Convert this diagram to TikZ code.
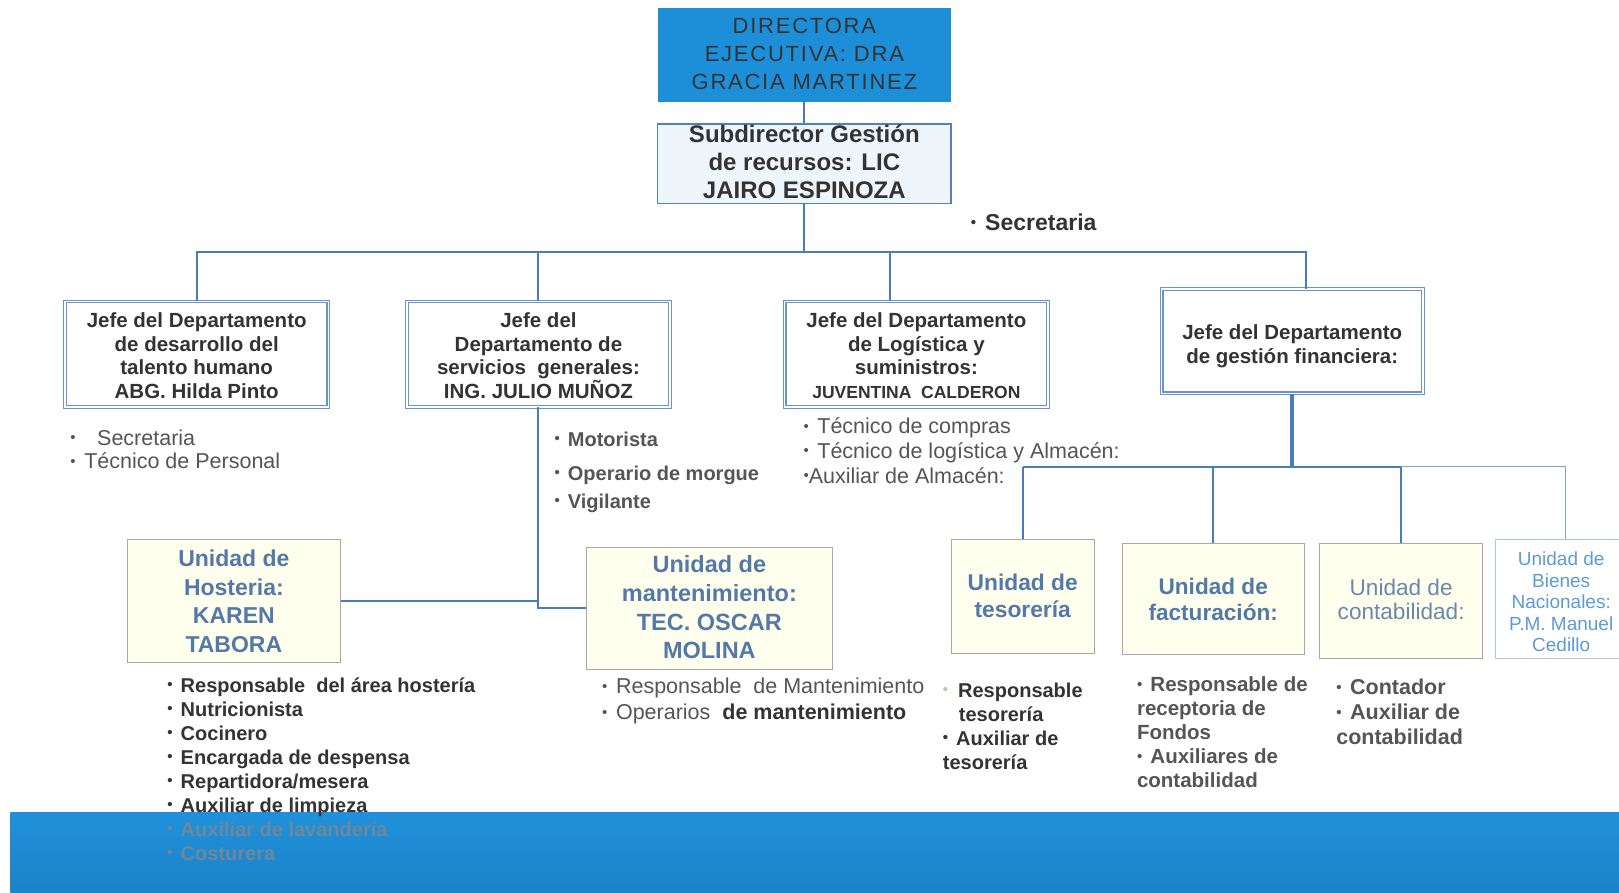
\documentclass[tikz,border=0pt]{standalone}
\usepackage{fontspec}
\setmainfont{Liberation Sans}
\usetikzlibrary{fit}
\definecolor{dirblue}{HTML}{1C8FD8}
\definecolor{linec}{HTML}{4A7CBD}
\definecolor{subfill}{HTML}{EEF6FC}
\definecolor{subdraw}{HTML}{4F81BD}
\definecolor{deptdraw}{HTML}{6A93C8}
\definecolor{unitfill}{HTML}{FFFFEE}
\definecolor{unitdraw}{HTML}{A8A8A8}
\definecolor{unittext}{HTML}{5478A8}
\definecolor{conttext}{HTML}{6A88AA}
\definecolor{bientext}{HTML}{5D9BD5}
\definecolor{biendraw}{HTML}{A8C8E8}
\definecolor{dtext}{HTML}{333333}
\definecolor{gtext}{HTML}{555555}
\definecolor{bandtop}{HTML}{1F91DA}
\definecolor{bandbot}{HTML}{1C82C9}
\definecolor{fadetext}{HTML}{6F8799}
\definecolor{bulgreen}{HTML}{A8D8A0}
\newcommand\bulx{\raisebox{0.12em}{\fontsize{15}{15}\selectfont •}}
\newcommand\bul{\bulx\hspace{0.4em}}
\tikzset{
  conn/.style={draw=linec, line width=2pt},
  thickconn/.style={draw=linec, line width=4pt},
  dirbox/.style={fill=dirblue, draw=none, inner sep=0pt},
  subbox/.style={fill=subfill, draw=subdraw, line width=1.5pt, inner sep=0pt},
  deptbox/.style={fill=white, draw=deptdraw, double=white, double distance=1.5pt, line width=1.2pt, inner sep=0pt},
  unitbox/.style={fill=unitfill, draw=unitdraw, line width=0.8pt, inner sep=0pt},
  boxtext/.style={anchor=base, inner sep=0pt, align=center},
  dirtext/.style={boxtext, text=dtext, font={\fontsize{22}{28}\selectfont\addfontfeatures{LetterSpace=8}}},
  subtext/.style={boxtext, text=dtext, font={\fontsize{24}{28}\selectfont\bfseries}},
  depttext/.style={boxtext, text=dtext, font={\fontsize{20.5}{23.7}\selectfont\bfseries}},
  unittxt/.style={boxtext, text=unittext, font={\fontsize{23}{28.6}\selectfont\bfseries}},
  listnode/.style={anchor=base west, inner sep=0pt, align=left},
}
\begin{document}
\begin{tikzpicture}[x=1.0325pt, y=-1.0325pt]
\useasboundingbox (0,0) rectangle (1568,864);
\clip (0,0) rectangle (1568,864);
\fill[white] (0,0) rectangle (1568,864);
\shade[top color=bandtop, bottom color=bandbot] (10,787) rectangle (1568,864);

% top boxes
\node[dirbox, fit={(637,8) (921,99)}] (dir) {};
\node[dirtext] (dirt) at (dir |- 0,87) {DIRECTORA\\EJECUTIVA: DRA\\GRACIA MARTINEZ};
\node[subbox, fit={(637,120) (921,197)}] (sub) {};
\node[subtext] (subt) at (sub |- 0,192) {Subdirector Gestión\\de recursos: LIC\\JAIRO ESPINOZA};

% department boxes
\node[deptbox, fit={(63,292) (318,394)}] (d1) {};
\node[depttext] (d1t) at (d1 |- 0,386) {Jefe del Departamento\\de desarrollo del\\talento humano\\ABG. Hilda Pinto};
\node[deptbox, fit={(394,292) (649,394)}] (d2) {};
\node[depttext] (d2t) at (d2 |- 0,386) {Jefe del\\Departamento de\\servicios\ \ generales:\\ING. JULIO MUÑOZ};
\node[deptbox, fit={(760,292) (1015,394)}] (d3) {};
\node[depttext] (d3t) at (d3 |- 0,386) {Jefe del Departamento\\de Logística y\\suministros:\\{\fontsize{17.5}{23.7}\selectfont JUVENTINA\ \ CALDERON}};
\node[deptbox, fit={(1125,280) (1378,381)}] (d4) {};
\node[depttext] (d4t) at (d4 |- 0,352) {Jefe del Departamento\\de gestión financiera:};

% unit boxes
\node[unitbox, fit={(123,522) (330,642)}] (uh) {};
\node[unittxt] (uht) at (uh |- 0,632) {Unidad de\\Hosteria:\\KAREN\\TABORA};
\node[unitbox, fit={(568,530) (806,648)}] (um) {};
\node[unittxt, font={\fontsize{23.5}{28.6}\selectfont\bfseries}] (umt) at (um |- 0,638) {Unidad de\\mantenimiento:\\TEC. OSCAR\\MOLINA};
\node[unitbox, fit={(921,522) (1060,633)}] (ut) {};
\node[unittxt, font={\fontsize{22.8}{26.5}\selectfont\bfseries}] (utt) at (ut |- 0,598) {Unidad de\\tesorería};
\node[unitbox, fit={(1087,526) (1263,634)}] (uf) {};
\node[unittxt, font={\fontsize{22.6}{26.5}\selectfont\bfseries}] (uft) at (uf |- 0,601) {Unidad de\\facturación:};
\node[unitbox, fit={(1278,526) (1436,638)}] (uc) {};
\node[unittxt, text=conttext, font={\fontsize{22.6}{24}\selectfont}] (uct) at (uc |- 0,600) {Unidad de\\contabilidad:};
\node[unitbox, fill=white, draw=biendraw, fit={(1448,522) (1576,638)}] (ub) {};
\node[unittxt, text=bientext, font={\fontsize{19}{21.4}\selectfont}] (ubt) at (1512,631) {Unidad de\\Bienes\\Nacionales:\\P.M.\ Manuel\\Cedillo};

% connector coordinates
\coordinate (hl) at (191,244);
\coordinate (x3) at (862,244);
\coordinate (x4) at (1265,244);
\coordinate (fh) at (1253,452);
\coordinate (xb) at (1516,452);

\draw[conn] (dir.south) -- (sub.north);
\draw[conn] (sub.south) -- (sub.south |- hl);
\draw[conn] (d1.north) -- (d1.north |- hl) -- (x4) -- (x4 |- d4.north);
\draw[conn] (d2.north) -- (d2.north |- hl);
\draw[conn] (x3) -- (x3 |- d3.north);
\draw[thickconn] (d4.south) -- (d4.south |- fh);
\draw[conn] (ut.north |- fh) -- (uc.north |- fh);
\draw[conn, line width=1.5pt, draw=linec!70] (uc.north |- fh) -- (xb) -- (xb |- ub.north);
\draw[conn] (ut.north) -- (ut.north |- fh);
\draw[conn] (uf.north) -- (uf.north |- fh);
\draw[conn] (uc.north) -- (uc.north |- fh);
\draw[conn] (d2.south) -- (d2.south |- um.west) -- (um.west);
\draw[conn] (uh.east) -- (uh.east -| d2.south);

% lists (base = baseline of last line)
\node[listnode, text=dtext, font={\fontsize{23}{24}\selectfont\bfseries}] (lsec) at (940,223) {\bul Secretaria};
\node[listnode, text=gtext, font={\fontsize{21.5}{23.7}\selectfont}] (l1) at (68,454) {\bulx\hspace{1.0em}Secretaria\\\bul Técnico de Personal};
\node[listnode, text=gtext, font={\fontsize{20}{24}\selectfont\bfseries}] (l2) at (537,492) {\bul Motorista\\[10pt]\bul Operario de morgue\\[4pt]\bul Vigilante};
\node[listnode, text=gtext, font={\fontsize{21.5}{24.8}\selectfont}] (l3) at (778,468) {\bul Técnico de compras\\\bul Técnico de logística y Almacén:\\\bulx Auxiliar de Almacén:};
\node[listnode, text=dtext, font={\fontsize{20}{24}\selectfont\bfseries}] (lh) at (162,833) {\bul Responsable\ \ del área hostería\\\bul Nutricionista\\\bul Cocinero\\\bul Encargada de despensa\\\bul Repartidora/mesera\\\bul Auxiliar de limpieza\\\textcolor{fadetext}{\bul Auxiliar de lavandería}\\\textcolor{fadetext}{\bul Costurera}};
\node[listnode, text=gtext, font={\fontsize{21.5}{25.8}\selectfont}] (lm) at (583,697) {\bul Responsable\ \ de Mantenimiento\\\bul Operarios\ \ \textcolor{dtext}{\bfseries de mantenimiento}};
\node[listnode, text=dtext, font={\fontsize{20}{24}\selectfont\bfseries}] (lt) at (913,745) {\textcolor{bulgreen}{\bulx}\hspace{0.5em}Responsable\\\hspace*{16pt}tesorería\\\bul Auxiliar de\\tesorería};
\node[listnode, text=gtext, font={\fontsize{20.5}{24}\selectfont\bfseries}] (lf) at (1101,763) {\bul Responsable de\\receptoria de\\Fondos\\\bul Auxiliares de\\contabilidad};
\node[listnode, text=gtext, font={\fontsize{21.5}{24.8}\selectfont\bfseries}] (lc) at (1294,721) {\bul Contador\\\bul Auxiliar de\\contabilidad};
\end{tikzpicture}
\end{document}
